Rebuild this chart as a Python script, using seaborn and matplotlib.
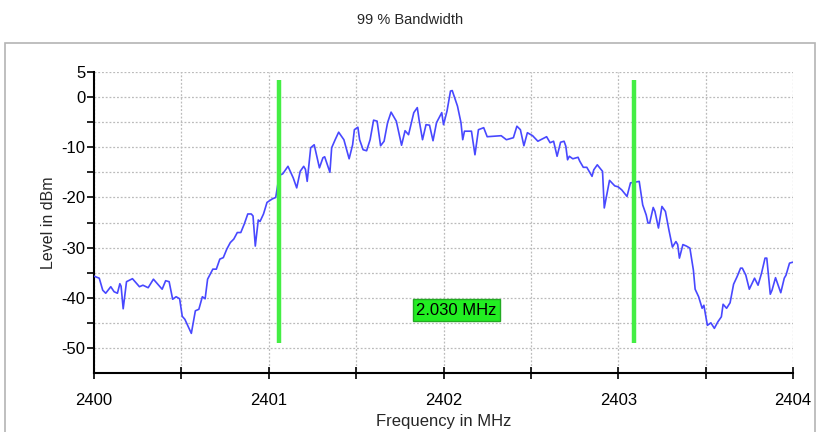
import numpy as np
import pandas as pd
import seaborn as sns
import matplotlib.pyplot as plt
from matplotlib.patches import Rectangle
from matplotlib.ticker import FixedLocator, FixedFormatter

# spectrum trace
freq = [
    2400.00, 2400.03, 2400.05, 2400.067, 2400.096, 2400.115, 2400.134, 2400.148,
    2400.155, 2400.167, 2400.186, 2400.22, 2400.26, 2400.28, 2400.31, 2400.34,
    2400.36, 2400.39, 2400.41, 2400.43, 2400.45, 2400.47, 2400.49, 2400.505,
    2400.52, 2400.557, 2400.58, 2400.60, 2400.62, 2400.636, 2400.65, 2400.68,
    2400.70, 2400.72, 2400.74, 2400.76, 2400.78, 2400.80, 2400.82, 2400.84,
    2400.86, 2400.88, 2400.90, 2400.91, 2400.923, 2400.94, 2400.95, 2400.97,
    2400.99, 2401.02, 2401.04, 2401.06, 2401.08, 2401.11, 2401.14, 2401.16,
    2401.18, 2401.20, 2401.21, 2401.22, 2401.24, 2401.26, 2401.29, 2401.31,
    2401.32, 2401.35, 2401.36, 2401.38, 2401.40, 2401.43, 2401.46, 2401.48,
    2401.49, 2401.51, 2401.52, 2401.54, 2401.56, 2401.58, 2401.60, 2401.62,
    2401.64, 2401.66, 2401.68, 2401.70, 2401.73, 2401.76, 2401.78, 2401.80,
    2401.83, 2401.85, 2401.86, 2401.88, 2401.90, 2401.92, 2401.94, 2401.96,
    2401.99, 2402.00, 2402.02, 2402.04, 2402.05, 2402.08, 2402.10, 2402.11,
    2402.12, 2402.16, 2402.18, 2402.20, 2402.23, 2402.25, 2402.29, 2402.33,
    2402.36, 2402.40, 2402.42, 2402.44, 2402.46, 2402.48, 2402.51, 2402.54,
    2402.59, 2402.61, 2402.63, 2402.65, 2402.67, 2402.69, 2402.70, 2402.71,
    2402.72, 2402.74, 2402.77, 2402.78, 2402.80, 2402.82, 2402.85, 2402.86,
    2402.88, 2402.91, 2402.92, 2402.95, 2402.98, 2403.00, 2403.02, 2403.05,
    2403.07, 2403.09, 2403.12, 2403.14, 2403.16, 2403.17, 2403.18, 2403.20,
    2403.21, 2403.23, 2403.25, 2403.27, 2403.29, 2403.31, 2403.33, 2403.34,
    2403.35, 2403.37, 2403.39, 2403.41, 2403.43, 2403.44, 2403.46, 2403.48,
    2403.49, 2403.51, 2403.53, 2403.55, 2403.57, 2403.59, 2403.60, 2403.62,
    2403.64, 2403.66, 2403.68, 2403.70, 2403.71, 2403.73, 2403.75, 2403.78,
    2403.80, 2403.82, 2403.84, 2403.85, 2403.87, 2403.88, 2403.90, 2403.93,
    2403.95, 2403.96, 2403.98, 2404.00,
]
level = [
    -35.7, -36.1, -38.5, -39.1, -37.8, -38.8, -39.1, -37.2,
    -37.7, -42.2, -36.8, -36.2, -37.8, -37.5, -38.0, -36.3,
    -37.1, -38.3, -36.6, -36.8, -40.3, -39.8, -40.2, -43.7,
    -44.3, -47.1, -42.6, -42.3, -39.8, -40.2, -36.3, -34.3,
    -34.3, -32.3, -32.0, -30.3, -29.0, -28.3, -27.0, -27.0,
    -25.3, -23.3, -23.3, -23.7, -29.7, -24.5, -24.8, -23.3,
    -21.0, -20.3, -20.0, -15.6, -15.3, -13.8, -16.1, -18.1,
    -14.8, -13.8, -14.4, -16.8, -10.1, -9.5, -14.1, -12.1,
    -11.9, -15.0, -10.1, -8.5, -7.0, -8.5, -12.3, -9.5,
    -6.5, -6.0, -8.5, -10.5, -10.7, -8.5, -4.6, -4.8,
    -9.7, -8.8, -5.1, -3.0, -4.8, -9.6, -6.7, -7.5,
    -3.1, -2.1, -4.5, -8.5, -5.5, -5.6, -8.7, -5.1,
    -3.1, -5.5, -2.8, 1.2, 1.3, -1.8, -5.1, -8.5,
    -6.8, -6.8, -11.5, -6.5, -6.1, -7.9, -7.8, -7.7,
    -8.5, -8.1, -5.8, -6.5, -9.7, -7.1, -7.7, -8.8,
    -7.9, -9.1, -8.8, -11.8, -9.0, -8.8, -9.8, -12.5,
    -11.8, -12.3, -12.0, -12.8, -14.0, -14.0, -15.8, -14.5,
    -13.5, -14.8, -22.1, -16.6, -17.7, -17.9, -18.5, -19.8,
    -17.1, -17.0, -16.8, -21.5, -23.5, -25.1, -25.1, -22.0,
    -22.8, -26.1, -21.8, -22.8, -26.5, -29.9, -28.8, -29.4,
    -32.1, -29.4, -29.7, -30.1, -34.5, -38.3, -39.8, -42.1,
    -41.5, -45.5, -45.0, -46.1, -44.8, -43.8, -41.3, -42.1,
    -41.0, -37.3, -35.8, -34.1, -34.1, -35.5, -38.3, -36.1,
    -37.5, -35.1, -32.1, -32.1, -39.3, -38.5, -36.0, -39.0,
    -36.1, -35.5, -33.1, -32.9,
]

# 99 % bandwidth markers
bw_lower = 2401.06
bw_upper = 2403.09
bw_label = "2.030 MHz"

y_ticks = [5, 0, -5, -10, -15, -20, -25, -30, -35, -40, -45, -50]
y_labels = ["5", "0", "", "-10", "", "-20", "", "-30", "", "-40", "", "-50"]
x_ticks = [2400, 2400.5, 2401, 2401.5, 2402, 2402.5, 2403, 2403.5, 2404]
x_labels = ["2400", "", "2401", "", "2402", "", "2403", "", "2404"]

df = pd.DataFrame({"Frequency": freq, "Level": level})

sns.set_theme(style="white")
plt.rcParams["font.family"] = ["Liberation Sans", "DejaVu Sans"]

fig = plt.figure(figsize=(8.19, 4.32), dpi=100)
ax = fig.add_axes([94 / 819, 1 - 373 / 432, (793 - 94) / 819, (373 - 72) / 432])

# grey frame around the chart area
fig.patches.append(Rectangle((5 / 819, -0.05), 810 / 819, 0.05 + 1 - 43 / 432,
                             transform=fig.transFigure, fill=False,
                             edgecolor="#b4b4b4", linewidth=1.2, zorder=0))

sns.lineplot(data=df, x="Frequency", y="Level", ax=ax, color="#4848ff",
             linewidth=1.2, zorder=3)

for f in (bw_lower, bw_upper):
    ax.plot([f, f], [-49, 3.5], color="#44ee44", linewidth=3.2, zorder=4,
            solid_capstyle="butt")

ax.text((bw_lower + bw_upper) / 2, -42.5, bw_label, ha="center", va="center",
        fontsize=12, color="black", zorder=5,
        bbox=dict(boxstyle="square,pad=0.2", facecolor="#22ee22",
                  edgecolor="#22aa22", linewidth=1))

ax.set_xlim(2400, 2404)
ax.set_ylim(-55, 5)
ax.xaxis.set_major_locator(FixedLocator(x_ticks))
ax.xaxis.set_major_formatter(FixedFormatter(x_labels))
ax.yaxis.set_major_locator(FixedLocator(y_ticks))
ax.yaxis.set_major_formatter(FixedFormatter(y_labels))
ax.grid(True, color="#bbbbbb", linestyle=(0, (1.5, 1.5)), linewidth=0.9)

for side in ("top", "right"):
    ax.spines[side].set_visible(False)
for side in ("left", "bottom"):
    ax.spines[side].set_color("black")
    ax.spines[side].set_linewidth(1.5)

ax.tick_params(axis="x", direction="inout", length=9, width=1.2, colors="black",
               labelsize=12, pad=10, bottom=True)
ax.tick_params(axis="y", direction="out", length=5, width=1.2, colors="black",
               labelsize=12, pad=1, left=True)

ax.set_xlabel("Frequency in MHz", fontsize=12, labelpad=4)
ax.set_ylabel("Level in dBm", fontsize=11.5, labelpad=4)
fig.text(410 / 819, 1 - 20 / 432, "99 % Bandwidth", ha="center", va="center",
         fontsize=10.5)

fig.savefig("out.png", dpi=100, facecolor="white")
